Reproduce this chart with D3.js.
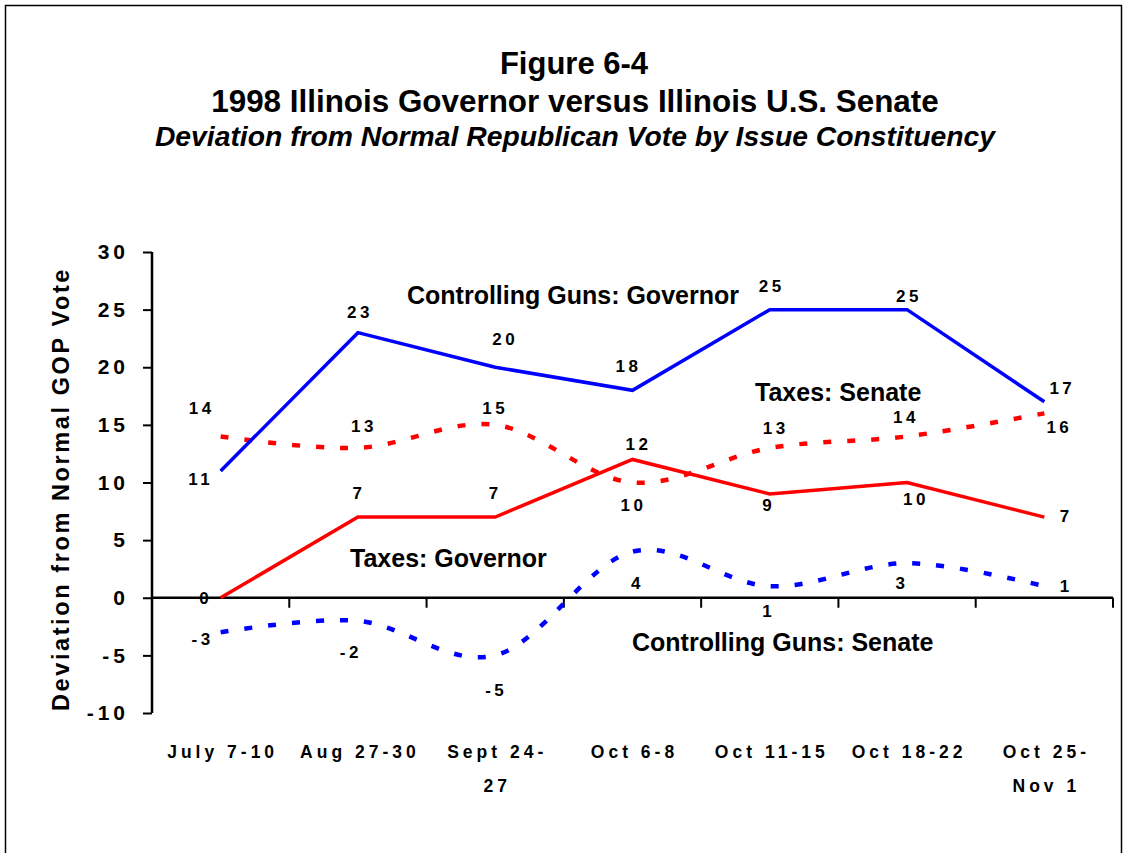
<!DOCTYPE html>
<html>
<head>
<meta charset="utf-8">
<script src="https://cdn.jsdelivr.net/npm/d3@7"></script>
<style>
  html, body { margin: 0; padding: 0; background: #fff; }
  svg { display: block; font-family: "Liberation Sans", Arial, sans-serif; }
</style>
</head>
<body>
<svg id="chart" width="1131" height="853"></svg>
<script>
// Survey periods (x categories); "\n" marks a wrapped label
const periods = ["July 7-10", "Aug 27-30", "Sept 24-\n27", "Oct 6-8", "Oct 11-15", "Oct 18-22", "Oct 25-\nNov 1"];

// Deviation from normal GOP vote, by issue constituency
const gunsGovernor  = [11, 23, 20, 18, 25, 25, 17];
const taxesSenate   = [14, 13, 15, 10, 13, 14, 16];
const taxesGovernor = [0, 7, 7, 12, 9, 10, 7];
const gunsSenate    = [-3, -2, -5, 4, 1, 3, 1];

const yTicks = [30, 25, 20, 15, 10, 5, 0, -5, -10];

const titleLines = ["Figure 6-4", "1998 Illinois Governor versus Illinois U.S. Senate"];
const subtitle = "Deviation from Normal Republican Vote by Issue Constituency";
const yTitle = "Deviation from Normal GOP Vote";

const svg = d3.select("#chart");

// outer frame
svg.append("rect")
  .attr("x", 5.5).attr("y", 5.5)
  .attr("width", 1116).attr("height", 900)
  .attr("fill", "none").attr("stroke", "#000").attr("stroke-width", 1.5);

// titles
svg.append("text").text(titleLines[0])
  .attr("x", 574).attr("y", 74).attr("text-anchor", "middle")
  .attr("font-size", 31).attr("font-weight", "bold");
svg.append("text").text(titleLines[1])
  .attr("x", 575).attr("y", 112).attr("text-anchor", "middle")
  .attr("font-size", 31.4).attr("font-weight", "bold");
svg.append("text").text(subtitle)
  .attr("x", 575).attr("y", 146).attr("text-anchor", "middle")
  .attr("font-size", 28.3).attr("font-weight", "bold").attr("font-style", "italic");

// plot area
const plotL = 152, plotR = 1113, plotT = 252, plotB = 713;
const x = d3.scaleBand().domain(d3.range(periods.length)).range([plotL, plotR]).paddingInner(0).paddingOuter(0);
const cx = i => x(i) + x.bandwidth() / 2;
const y = d3.scaleLinear().domain([-10, 30]).range([plotB, plotT]);

// y axis (hyphen-minus for negative ticks)
const yAxis = d3.axisLeft(y).tickValues(yTicks).tickSize(9).tickPadding(14).tickFormat(d => String(d));
const gy = svg.append("g").attr("transform", `translate(${plotL},0)`).call(yAxis);
gy.select(".domain").attr("stroke-width", 2.5).attr("d", `M0,${plotT}V${plotB}`);
gy.selectAll(".tick line").attr("stroke-width", 2);
gy.selectAll(".tick text")
  .attr("font-size", 21).attr("font-weight", "bold").attr("letter-spacing", "4px")
  .attr("font-family", "Liberation Sans, Arial, sans-serif").attr("fill", "#000");

// x axis drawn along the zero line, ticks at category boundaries
const zeroY = y(0);
const gx = svg.append("g");
gx.append("line").attr("x1", plotL).attr("x2", plotR).attr("y1", zeroY).attr("y2", zeroY)
  .attr("stroke", "#000").attr("stroke-width", 2.5);
gx.selectAll("line.tick").data(d3.range(1, periods.length + 1)).join("line")
  .attr("class", "tick")
  .attr("x1", i => plotL + i * x.bandwidth()).attr("x2", i => plotL + i * x.bandwidth())
  .attr("y1", zeroY).attr("y2", zeroY + 10)
  .attr("stroke", "#000").attr("stroke-width", 2);

// category labels below the plot
const xl = svg.append("g");
periods.forEach((p, i) => {
  const t = xl.append("text")
    .attr("x", cx(i) + 2).attr("y", 758).attr("text-anchor", "middle")
    .attr("font-size", 17.5).attr("font-weight", "bold").attr("letter-spacing", "4px");
  p.split("\n").forEach((ln, k) => {
    t.append("tspan").attr("x", cx(i) + 2).attr("dy", k === 0 ? 0 : 34).text(ln);
  });
});

// y title
svg.append("text").text(yTitle)
  .attr("transform", "translate(69,489) rotate(-90)")
  .attr("text-anchor", "middle")
  .attr("font-size", 23.5).attr("font-weight", "bold").attr("letter-spacing", "2.6px");

// series
const series = [
  { values: gunsSenate,    color: "#0000ff", dashed: true },
  { values: taxesSenate,   color: "#ff0000", dashed: true },
  { values: taxesGovernor, color: "#ff0000", dashed: false },
  { values: gunsGovernor,  color: "#0000ff", dashed: false }
];

series.forEach(s => {
  const line = d3.line()
    .x((d, i) => cx(i)).y(d => y(d))
    .curve(s.dashed ? d3.curveCardinal.tension(0) : d3.curveLinear);
  svg.append("path").datum(s.values)
    .attr("d", line)
    .attr("fill", "none")
    .attr("stroke", s.color)
    .attr("stroke-width", s.dashed ? 4.5 : 3.5)
    .attr("stroke-dasharray", s.dashed ? "8,16" : null);
});

// value labels: offsets (dx, dy) from each point
const labelOffsets = new Map([
  [gunsGovernor,  [[-22, 8], [0, -21], [8, -28], [-6, -24], [0, -24], [0, -14], [16, -14]]],
  [taxesGovernor, [[-17, 0], [-1, -24], [-2, -24], [4, -15], [-3, 11], [7, 17], [20, -1]]],
  [taxesSenate,   [[-21, -28], [4, -22], [-2, -17], [-1, 23], [4, -20], [-3, -19], [13, 14]]],
  [gunsSenate,    [[-20, 7], [-9, 31], [-1, 35], [3, 31], [-3, 25], [-7, 20], [20, 0]]]
]);

const lbl = svg.append("g");
labelOffsets.forEach((offs, vals) => {
  vals.forEach((v, i) => {
    lbl.append("text").text(v)
      .attr("x", cx(i) + offs[i][0] + 2).attr("y", y(v) + offs[i][1])
      .attr("dy", "0.35em").attr("text-anchor", "middle")
      .attr("font-size", 17).attr("font-weight", "bold").attr("letter-spacing", "3.5px");
  });
});

// series name labels
const names = [
  { text: "Controlling Guns: Governor", x: 407, y: 304 },
  { text: "Taxes: Senate", x: 755, y: 401 },
  { text: "Taxes: Governor", x: 350, y: 567 },
  { text: "Controlling Guns: Senate", x: 632, y: 651 }
];
svg.append("g").selectAll("text").data(names).join("text")
  .text(d => d.text).attr("x", d => d.x).attr("y", d => d.y)
  .attr("font-size", 25).attr("font-weight", "bold");
</script>
</body>
</html>
